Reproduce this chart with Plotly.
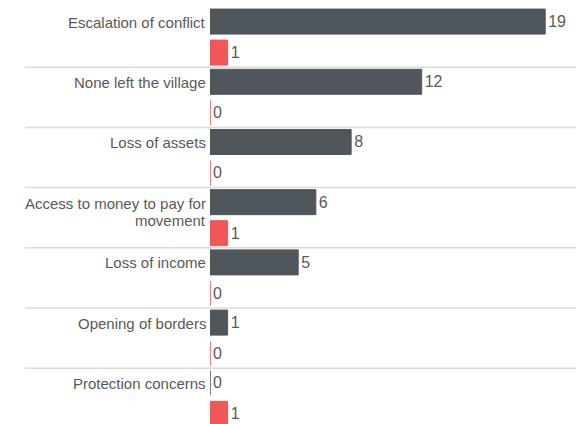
import plotly.graph_objects as go

categories = ["Escalation of conflict", "None left the village", "Loss of assets",
              "Access to money to pay for movement", "Loss of income",
              "Opening of borders", "Protection concerns"]
tick_labels = ["Escalation of conflict", "None left the village", "Loss of assets",
               "Access to money to pay for<br>movement", "Loss of income",
               "Opening of borders", "Protection concerns"]
series_dark = [19, 12, 8, 6, 5, 1, 0]
series_red = [1, 0, 0, 1, 0, 0, 1]

DARK = "#4f565c"
RED = "#ef5759"
TEXT = "#595959"
FONT = "Liberation Sans, Arial, sans-serif"

fig = go.Figure()
fig.add_trace(go.Bar(
    y=categories, x=series_dark, orientation="h",
    marker=dict(color=DARK, line=dict(color=DARK, width=1)),
    width=0.415, offset=-0.465,
    text=[str(v) for v in series_dark], textposition="outside",
    textfont=dict(size=16, color=TEXT, family=FONT),
    cliponaxis=False, showlegend=False,
))
fig.add_trace(go.Bar(
    y=categories, x=series_red, orientation="h",
    marker=dict(color=RED, line=dict(color=RED, width=1)),
    width=0.415, offset=0.05,
    text=[str(v) for v in series_red], textposition="outside",
    textfont=dict(size=16, color=TEXT, family=FONT),
    cliponaxis=False, showlegend=False,
))

# category labels aligned with the upper bar
for c, lab in zip(categories, tick_labels):
    lines = lab.split("<br>")
    if len(lines) == 1:
        shifts = [15]
    else:
        shifts = [14, -3]
    for line, s in zip(lines, shifts):
        fig.add_annotation(
            x=0, xref="paper", xanchor="right", xshift=-3,
            y=c, yref="y", yanchor="middle", yshift=s,
            text=line, showarrow=False, align="right", borderpad=0,
            font=dict(size=15, color=TEXT, family=FONT),
        )

# separators between categories
for k in range(len(categories) - 1):
    fig.add_shape(type="line", xref="paper", x0=-0.495, x1=1.0,
                  yref="y", y0=k + 0.5, y1=k + 0.5,
                  line=dict(color="#dcdcdc", width=1.5))

fig.update_layout(
    width=576, height=416,
    margin=dict(l=202, r=0, t=0, b=0),
    plot_bgcolor="white", paper_bgcolor="white",
    barmode="group",
    xaxis=dict(range=[0, 21.2], visible=False),
    yaxis=dict(range=[6.427, -0.483], showticklabels=False, showgrid=False,
               zeroline=False, ticks=""),
)
fig.write_html("out.html")
